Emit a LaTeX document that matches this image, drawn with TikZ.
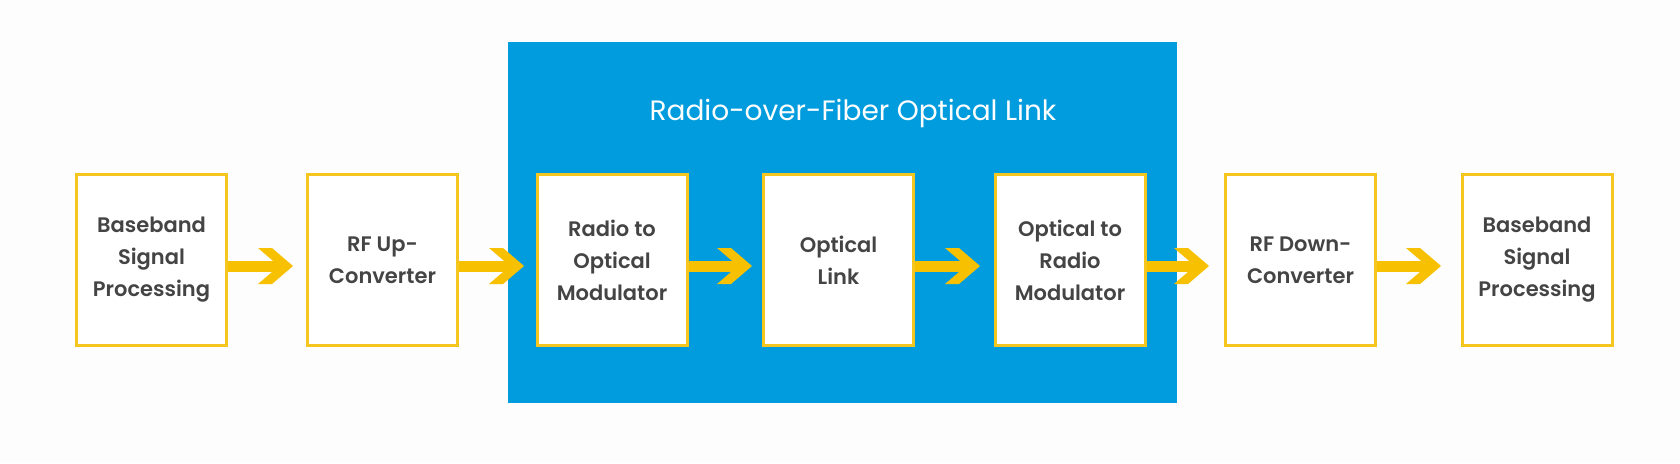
\documentclass[tikz,border=0pt]{standalone}
\usepackage{fontspec}
\setmainfont{Poppins}
\newfontfamily\boxfont{Poppins SemiBold}
\newfontfamily\titlefont{Poppins}
\usetikzlibrary{calc}
\definecolor{rofblue}{HTML}{019CDE}
\definecolor{boxyellow}{HTML}{F4C61F}
\definecolor{arrowyellow}{HTML}{F7C000}
\definecolor{txtgray}{HTML}{444444}
\definecolor{bg}{HTML}{FDFDFD}
\newcommand\chevarrow[3]{%
  \path (#1.east) ++(0,6) coordinate (s-#1);
  \path (#2.west) ++(-#3,6) coordinate (t-#1);
  \fill[arrowc] ($(s-#1)+(0,-5.5)$) rectangle ($(t-#1)+(-14,5.5)$);
  \fill[arrowc] (t-#1) -- ++(-21,-18) -- ++(-14,0) -- ++(21,18) -- ++(-21,18) -- ++(14,0) -- cycle;
}
\begin{document}
\begin{tikzpicture}[x=1pt,y=-1pt,
  blk/.style={draw=boxyellow, line width=3pt, fill=white, minimum width=150pt,
    minimum height=171pt, inner sep=0pt, align=center, text=txtgray,
    font=\boxfont\fontsize{21}{32}\selectfont},
  arrowc/.style={fill=arrowyellow}]
\fill[bg] (0,0) rectangle (1680,463);
\useasboundingbox (0,0) rectangle (1680,463);
\node (rof) [fill=rofblue, minimum width=669pt, minimum height=361pt, inner sep=0pt] at (842.5,222.5) {};
\node (title) [anchor=base, text=white, font=\titlefont\fontsize{28}{34}\selectfont, inner sep=0pt] at (853,120) {Radio-over-Fiber Optical Link};
\node (b1) [blk] at (151.5,260) {Baseband\\Signal\\Processing};
\node (b2) [blk] at (382.5,260) {RF Up-\\Converter};
\node (b3) [blk] at (612,260) {Radio to\\Optical\\Modulator};
\node (b4) [blk] at (838.5,260) {Optical\\Link};
\node (b5) [blk] at (1070,260) {Optical to\\Radio\\Modulator};
\node (b6) [blk] at (1300.5,260) {RF Down-\\Converter};
\node (b7) [blk] at (1537,260) {Baseband\\Signal\\Processing};
\chevarrow{b1}{b2}{13}
\chevarrow{b2}{b3}{11.5}
\chevarrow{b3}{b4}{10}
\chevarrow{b4}{b5}{13.5}
\chevarrow{b5}{b6}{15}
\chevarrow{b6}{b7}{19.5}
\end{tikzpicture}
\end{document}
